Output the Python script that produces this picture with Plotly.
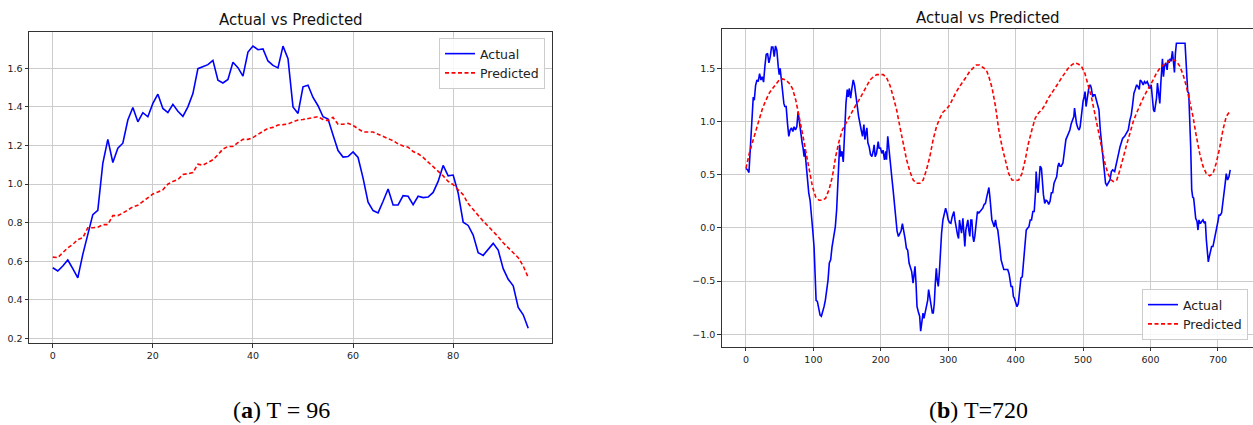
import plotly.graph_objects as go

W, H = 1253, 425

# ---------------- Data: (a) T = 96 ----------------
t96 = list(range(96))
actual_96 = [0.567, 0.55, 0.576, 0.607, 0.562, 0.514, 0.636, 0.739, 0.842, 0.864,
             1.108, 1.232, 1.112, 1.186, 1.212, 1.332, 1.397, 1.323, 1.37, 1.349,
             1.418, 1.466, 1.392, 1.371, 1.413, 1.377, 1.351, 1.40, 1.469, 1.598,
             1.607, 1.619, 1.641, 1.538, 1.524, 1.542, 1.631, 1.603, 1.559, 1.684,
             1.715, 1.696, 1.70, 1.638, 1.615, 1.602, 1.715, 1.65, 1.40, 1.366,
             1.504, 1.512, 1.449, 1.406, 1.349, 1.337, 1.255, 1.174, 1.14, 1.143,
             1.167, 1.138, 1.031, 0.906, 0.863, 0.851, 0.911, 0.975, 0.892, 0.892,
             0.94, 0.937, 0.894, 0.937, 0.93, 0.933, 0.957, 1.014, 1.097, 1.043,
             1.047, 0.954, 0.803, 0.786, 0.736, 0.645, 0.631, 0.662, 0.693, 0.658,
             0.562, 0.507, 0.473, 0.361, 0.323, 0.253]
pred_96 = [0.622, 0.619, 0.645, 0.670, 0.688, 0.713, 0.722, 0.774, 0.774, 0.777,
           0.79, 0.79, 0.837, 0.837, 0.85, 0.868, 0.882, 0.89, 0.911, 0.928,
           0.949, 0.959, 0.971, 1.0, 1.014, 1.023, 1.05, 1.054, 1.06, 1.103,
           1.098, 1.112, 1.126, 1.152, 1.182, 1.195, 1.195, 1.215, 1.232, 1.232,
           1.241, 1.258, 1.272, 1.289, 1.294, 1.306, 1.308, 1.311, 1.323, 1.332,
           1.335, 1.34, 1.344, 1.349, 1.335, 1.329, 1.346, 1.31, 1.31, 1.315,
           1.304, 1.289, 1.27, 1.27, 1.27, 1.258, 1.249, 1.236, 1.225, 1.208,
           1.198, 1.191, 1.169, 1.157, 1.138, 1.114, 1.091, 1.071, 1.043, 1.014,
           0.997, 0.971, 0.945, 0.899, 0.868, 0.842, 0.808, 0.782, 0.756, 0.727,
           0.696, 0.670, 0.641, 0.619, 0.576, 0.516]

# ---------------- Data: (b) T = 720 ----------------
actual_720_x = [
    0, 2.5, 4.4, 5.9, 7.4, 9.4, 10.8, 12.3, 14.3, 16.3, 18.2, 20.2, 22.2, 24.1, 26.1, 28.1, 30, 32, 34, 36,
    37.9, 39.9, 41.9, 43.8, 45.8, 47.8, 49.3, 50.7, 52.7, 54.7, 56.2, 57.6, 59.6, 61.6, 63.5, 65.5, 67.5,
    69.5, 71.4, 73.4, 75.4, 77.3, 79.3, 81.3, 83.3, 84.7, 86.2, 87.2, 89.2, 91.1, 93.1, 95.1, 97, 99, 101,
    102, 103, 104, 105.9, 107.9, 109.9, 111.8, 113.8, 115.8, 117.7, 119.7, 121.7, 123.6, 125.6, 127.6,
    129.6, 131, 132.5, 134.5, 136, 137.4, 138.9, 140.4, 142.4, 144.3, 145.3, 146.8, 148.3, 150.2, 151.7,
    153.2, 155.2, 157.1, 159.1, 161.1, 163.1, 165, 167,
    170.9, 172.9, 174.9, 176.4, 177.9, 179.3, 180.8, 182.8, 184.7, 186.7, 188.7, 190.1, 191.6, 193.6,
    196.1, 197.5, 199.5, 201.5, 203.4, 205.4, 207.4, 208.4, 210.3, 212.3, 213.8, 215.3, 216.7, 218.2,
    220.2, 222.2, 224.1, 226.1, 228.1, 230, 232, 234, 236, 237.9, 239.9, 241.9, 243.8, 245.8, 247.8,
    249.8, 250.7, 252.2, 253.7, 255.7, 257.6, 259.1, 260.6, 262.6, 264, 266, 267.5, 269.5, 270.9, 272.4,
    274.4, 276.4, 277.8, 279.3, 280.8, 282.3, 283.7, 285.2, 286.7, 288.2, 290.1, 292.1, 294.1, 296.1,
    298, 300, 302, 303.9, 305.9, 308.4, 309.9, 311.8, 313.8, 315.3, 316.7, 318.2, 319.7, 321.7, 323.2,
    324.6, 326.1, 327.6, 329.1, 330.5, 332, 333.5, 335, 336.5, 337.9, 339.4, 341.4, 343.3, 345.3, 347.3,
    349.4, 351.2, 353.2, 355.2, 357.1,
    358.8, 360.3, 361.8, 363.2, 364.7, 366.7, 368.1, 370.1, 371.6, 373.5, 375.5, 377, 378.4, 380.4, 382.4,
    384.3, 386.3, 388.2, 390.2, 391.7, 393.1, 395.1, 396.6, 398, 400, 402, 403.9, 405.9, 407.8, 409.8,
    411.8, 413.7, 415.7, 417.6, 419.6, 421.6, 423.5, 425.5, 427.5, 429.4, 430.4, 431.9, 433.3, 434.8,
    436.3, 438.2, 439.7, 441.2, 443.1, 445.1, 447.1, 449, 451, 452.9, 454.9, 456.9, 458.8, 460.8, 462.7,
    464.2, 465.7, 467.6, 470.1, 472.5, 474.5, 476.5, 478.4, 480.4, 482.4, 484.3, 486.3, 487.3, 488.7,
    490.2, 492.2, 494.1, 495.6, 497.1, 498.5, 500, 501.5, 502.9, 504.4, 505.9, 507.4, 508.8, 510.8,
    512.3, 514.2, 515.7, 517.6, 519.6, 521.6, 523.5, 525.5, 527.5, 529.4, 531.4, 533.3, 535.3, 537.3,
    539.9, 541.9, 543.8, 546.8, 548.8, 550.7, 552.7, 554.7, 556.7, 558.6, 561.6, 564.5, 567, 569.5,
    571.4, 573.4, 575.4, 577.3, 579.3, 581.3, 583.3, 584.7, 586.7, 589.2, 591.1, 593.1, 595.1, 597, 599,
    601, 602.5, 604.4, 605.9, 607.4, 608.9, 610.3, 611.8, 613.8, 615.3, 616.7, 617.7, 619.2, 620.7,
    622.7, 624.6, 626.1, 627.6, 629.1, 630.5, 632.5, 634, 635.5, 636.9, 638.4, 651.2, 652.2, 654.2,
    655.2, 656.7, 658.1, 659.6, 661.1, 662.6, 664, 665.5, 667, 669, 670.4, 671.9, 673.9, 675.9, 677.8,
    679.8, 681.3, 682.8, 684.2, 685.7, 687.2, 688.7, 690.6, 692.6, 694.6, 696.6, 698.5, 700, 701.5,
    703.4, 705.4, 707.4, 709.4, 710.8, 712.3, 714.3, 716.3, 718.2]
actual_720_y = [
    0.56, 0.545, 0.52, 0.67, 0.86, 1.11, 1.23, 1.20, 1.34, 1.39, 1.375, 1.45, 1.39, 1.42, 1.37, 1.52, 1.63,
    1.64, 1.55, 1.61, 1.70, 1.70, 1.61, 1.71, 1.67, 1.52, 1.44, 1.50, 1.36, 1.28, 1.17, 1.14, 1.14, 0.98,
    0.86, 0.92, 0.94, 0.905, 0.95, 0.92, 0.95, 1.09, 0.98, 0.86, 0.80, 0.75, 0.67, 0.74, 0.58, 0.42, 0.33,
    0.26, 0.15, -0.02, -0.18, -0.33, -0.55, -0.68, -0.69, -0.77, -0.82, -0.83, -0.79, -0.74, -0.68, -0.58,
    -0.49, -0.33, -0.30, -0.18, -0.08, -0.02, 0.01, 0.17, 0.36, 0.55, 0.78, 0.67, 0.72, 0.62, 0.80, 0.98,
    1.17, 1.30, 1.23, 1.31, 1.22, 1.31, 1.39, 1.34, 1.23, 1.11, 1.05,
    0.92, 0.86, 0.97, 0.83, 0.89, 0.94, 0.80, 0.76, 0.69, 0.67, 0.72, 0.78, 0.67, 0.70, 0.81, 0.75, 0.75,
    0.70, 0.73, 0.64, 0.72, 0.64, 0.86, 0.72, 0.58, 0.55, 0.45, 0.36, 0.20, 0.04, -0.03, -0.08, -0.06,
    -0.03, 0.04, -0.02, -0.10, -0.19, -0.21, -0.33, -0.36, -0.41, -0.52, -0.44, -0.36, -0.52, -0.74,
    -0.79, -0.83, -0.97, -0.90, -0.80, -0.85, -0.79, -0.77, -0.68, -0.58, -0.65, -0.74, -0.80, -0.80,
    -0.71, -0.52, -0.38, -0.49, -0.55, -0.43, -0.24, -0.05, 0.075, 0.14, 0.185, 0.14, 0.075, 0.05, 0.044,
    0.106, 0.154, 0.075, -0.02, -0.066, -0.10, 0.075, 0.01, -0.05, 0.09, -0.08, -0.175, -0.02, 0.044,
    0.075, -0.02, -0.08, 0.075, 0.075, -0.08, -0.13, -0.08, 0.06, 0.154, 0.14, 0.154, 0.17, 0.185, 0.22,
    0.23, 0.29,
    0.33, 0.38, 0.29, 0.15, 0.075, 0.04, 0.01, 0.075, 0.01, -0.02, -0.11, -0.21, -0.30, -0.36, -0.39,
    -0.39, -0.39, -0.39, -0.43, -0.52, -0.55, -0.55, -0.645, -0.66, -0.71, -0.74, -0.71, -0.58, -0.47,
    -0.46, -0.33, -0.175, -0.02, -0.003, 0.01, 0.075, 0.075, 0.154, 0.154, 0.33, 0.53, 0.39, 0.33, 0.45,
    0.58, 0.56, 0.42, 0.31, 0.23, 0.26, 0.25, 0.22, 0.25, 0.33, 0.33, 0.42, 0.45, 0.48, 0.58, 0.61, 0.58,
    0.58, 0.61, 0.72, 0.83, 0.86, 0.89, 0.92, 0.98, 1.015, 1.046, 1.125, 1.046, 0.98, 0.94, 0.92, 0.95,
    1.046, 1.156, 1.19, 1.23, 1.28, 1.14, 1.20, 1.266, 1.33, 1.344, 1.31, 1.23, 1.25, 1.25, 1.20, 1.14,
    1.11, 0.92, 0.80, 0.67, 0.58, 0.42, 0.40, 0.42,
    0.45, 0.53, 0.545, 0.53, 0.58, 0.655, 0.70, 0.76, 0.81, 0.84, 0.86, 0.89, 0.92, 1.015, 1.06, 1.156,
    1.266, 1.30, 1.344, 1.33, 1.30, 1.39, 1.375, 1.344, 1.375, 1.36, 1.375, 1.344, 1.31, 1.344, 1.23,
    1.11, 1.09, 1.156, 1.22, 1.36, 1.266, 1.17, 1.36, 1.52, 1.59, 1.42, 1.52, 1.55, 1.485, 1.58, 1.55,
    1.59, 1.565, 1.66, 1.58, 1.46, 1.64, 1.735, 1.735, 1.61, 1.39, 1.28, 1.266, 1.046, 0.76, 0.36, 0.29,
    0.28, 0.17, 0.09, 0.06, -0.02, 0.075, 0.04, 0.06, 0.075, 0.044, 0.06, -0.11, -0.21, -0.32, -0.27,
    -0.22, -0.175, -0.175, -0.11, -0.05, -0.02, 0.06, 0.12, 0.12, 0.14, 0.23, 0.33, 0.42, 0.51, 0.45,
    0.48, 0.545]

pred_720_x = [
    0, 4.9, 9.9, 14.8, 19.7, 24.6, 29.6, 34.5, 39.4, 44.3, 49.3, 54.2, 59.1, 64, 69, 73.9, 78.8, 83.7,
    88.7, 93.6, 98.5, 103.4, 108.4, 113.3, 118.2, 123.2, 128.1, 133, 137.9, 142.9, 147.8, 152.7, 157.6,
    162.6, 167.5, 174.2, 179.1, 184, 189, 193.9, 198.8, 203.7, 208.6, 213.5, 218.5, 223.4, 228.3, 233.3,
    238.2, 243.1, 248, 253, 257.9, 262.8, 267.7, 272.7, 277.6, 282.5, 287.4, 292.4, 297.3, 302.2, 307.1,
    312, 317, 321.9, 326.8, 331.8, 336.7, 341.6, 346.5, 351.5, 356.4, 360.3, 365.2, 370.1, 375, 379.9,
    384.8, 389.7, 394.6, 399.5, 404.4, 409.3, 414.2, 419.1, 424, 428.9, 433.8, 438.7, 443.6, 448.5,
    453.4, 458.3, 463.2, 468.1, 473, 477.9, 482.8, 487.7, 492.6, 497.5, 502.5, 507.4, 512.3, 517.2,
    522.1, 527, 531.9, 536.8, 541.7, 545, 550, 554.7, 559.6, 564.5, 569.5, 574.4, 579.3, 584.2, 589.2,
    594.1, 599, 603.9, 608.9, 613.8, 618.7, 623.6, 628.6, 633.5, 638.4, 643.3, 648.3, 653.2, 658.1, 663,
    668, 672.9, 677.8, 682.8, 687.7, 692.6, 697.5, 702.5, 707.4, 712.3, 717.2, 719]
pred_720_y = [
    0.56, 0.70, 0.81, 0.92, 1.03, 1.125, 1.20, 1.266, 1.31, 1.35, 1.39, 1.40, 1.39, 1.36, 1.31, 1.20, 1.06,
    0.89, 0.72, 0.545, 0.39, 0.29, 0.26, 0.26, 0.28, 0.36, 0.48, 0.67, 0.81, 0.92, 0.98, 1.03, 1.09, 1.15,
    1.20, 1.28, 1.34, 1.39, 1.42, 1.44, 1.44, 1.44, 1.41, 1.34, 1.23, 1.11, 0.95, 0.80, 0.64, 0.53, 0.45,
    0.42, 0.42, 0.45, 0.545, 0.67, 0.83, 0.95, 1.03, 1.09, 1.115, 1.156, 1.22, 1.28, 1.33, 1.37, 1.42,
    1.47, 1.50, 1.53, 1.53, 1.51, 1.485, 1.42, 1.31, 1.14, 0.92, 0.76, 0.62, 0.51, 0.45, 0.445, 0.45,
    0.51, 0.64, 0.80, 0.92, 1.03, 1.08, 1.11, 1.156, 1.22, 1.266, 1.31, 1.36, 1.41, 1.455, 1.50, 1.53,
    1.55, 1.54, 1.52, 1.455, 1.344, 1.23, 1.08, 0.92, 0.75, 0.62, 0.51, 0.45, 0.435, 0.45, 0.545, 0.67,
    0.78, 0.89, 1.0, 1.08, 1.156, 1.22, 1.28, 1.33, 1.39, 1.455, 1.50, 1.53, 1.55, 1.57, 1.58, 1.565,
    1.52, 1.44, 1.33, 1.20, 1.046, 0.86, 0.70, 0.58, 0.51, 0.49, 0.51, 0.61, 0.75, 0.92, 1.046, 1.09,
    1.10]

chart_title = "Actual vs Predicted"
series_names = ["Actual", "Predicted"]
captions = ["(<b>a</b>) T = 96", "(<b>b</b>) T=720"]

x96_ticks = [0, 20, 40, 60, 80]
y96_ticks = [0.2, 0.4, 0.6, 0.8, 1.0, 1.2, 1.4, 1.6]
x720_ticks = [0, 100, 200, 300, 400, 500, 600, 700]
y720_ticks = [-1.0, -0.5, 0.0, 0.5, 1.0, 1.5]

# ---------------- Figure ----------------
BLUE = "#0000ff"
RED = "#ff0000"
FONT = "DejaVu Sans"

fig = go.Figure()
fig.add_trace(go.Scatter(x=t96, y=actual_96, mode="lines", name=series_names[0],
                         line=dict(color=BLUE, width=1.6), xaxis="x", yaxis="y", legend="legend"))
fig.add_trace(go.Scatter(x=t96, y=pred_96, mode="lines", name=series_names[1],
                         line=dict(color=RED, width=1.6, dash="4px,2.5px"), xaxis="x", yaxis="y", legend="legend"))
fig.add_trace(go.Scatter(x=actual_720_x, y=actual_720_y, mode="lines", name=series_names[0],
                         line=dict(color=BLUE, width=1.6), xaxis="x2", yaxis="y2", legend="legend2"))
fig.add_trace(go.Scatter(x=pred_720_x, y=pred_720_y, mode="lines", name=series_names[1],
                         line=dict(color=RED, width=1.6, dash="4px,2.5px"), xaxis="x2", yaxis="y2", legend="legend2"))

def px_x(p):
    return p / W

def px_y(p):
    return 1 - p / H

axis_common = dict(showline=True, mirror=True, linecolor="#333333", linewidth=1,
                   ticks="outside", ticklen=3.5, tickwidth=0.8, tickcolor="#333333",
                   showgrid=True, gridcolor="#cccccc", gridwidth=1, zeroline=False,
                   tickfont=dict(family=FONT, size=9.5, color="#222222"))

legend_common = dict(bgcolor="rgba(255,255,255,0.85)", bordercolor="#cccccc", borderwidth=1,
                     font=dict(family=FONT, size=12.5, color="#222222"), itemwidth=30,
                     tracegroupgap=0)

fig.update_layout(
    width=W, height=H,
    margin=dict(l=0, r=0, t=0, b=0, autoexpand=False),
    paper_bgcolor="white", plot_bgcolor="white",
    font=dict(family=FONT, color="#222222"),
    xaxis=dict(domain=[px_x(29), px_x(552)], range=[-4.75, 99.75], tickvals=x96_ticks,
               anchor="y", **axis_common),
    yaxis=dict(domain=[px_y(343), px_y(32)], range=[0.177, 1.788], tickvals=y96_ticks,
               tickformat=".1f", anchor="x", **axis_common),
    xaxis2=dict(domain=[px_x(721.7), 1.0], range=[-36, 752], tickvals=x720_ticks,
                anchor="y2", **axis_common),
    yaxis2=dict(domain=[px_y(346.7), px_y(29.3)], range=[-1.116, 1.866], tickvals=y720_ticks,
                tickformat=".1f", anchor="x2", **axis_common),
    legend=dict(x=px_x(545), y=px_y(38), xanchor="right", yanchor="top", **legend_common),
    legend2=dict(x=px_x(1248), y=px_y(340), xanchor="right", yanchor="bottom", **legend_common),
    showlegend=True,
)

annotations = [
    dict(text=chart_title, x=px_x(290.5), y=px_y(20), xref="paper", yref="paper",
         showarrow=False, xanchor="center", yanchor="middle",
         font=dict(family=FONT, size=15, color="#111111")),
    dict(text=chart_title, x=px_x(988), y=px_y(18), xref="paper", yref="paper",
         showarrow=False, xanchor="center", yanchor="middle",
         font=dict(family=FONT, size=15, color="#111111")),
    dict(text=captions[0], x=px_x(281), y=px_y(410), xref="paper", yref="paper",
         showarrow=False, xanchor="center", yanchor="middle",
         font=dict(family="Liberation Serif", size=24, color="#000000")),
    dict(text=captions[1], x=px_x(978), y=px_y(410), xref="paper", yref="paper",
         showarrow=False, xanchor="center", yanchor="middle",
         font=dict(family="Liberation Serif", size=24, color="#000000")),
]
fig.update_layout(annotations=annotations)

fig.write_html("out.html",
               config=dict(displayModeBar=False),
               post_script="document.body.style.margin='0';document.body.style.overflow='hidden';")
